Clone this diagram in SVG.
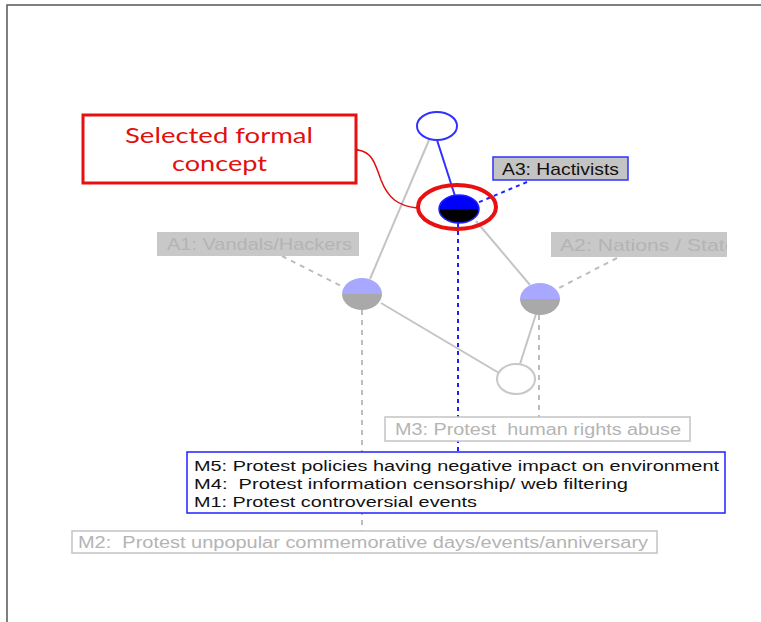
<svg xmlns="http://www.w3.org/2000/svg" width="761" height="622" viewBox="0 0 761 622">
<defs>
<style>
.t{font-family:"Liberation Sans",Arial,sans-serif;white-space:pre;}
.faint{fill:#b4b4b4;}
.gedge{stroke:#c4c4c4;stroke-width:2;fill:none;}
.gdash{stroke:#bdbdbd;stroke-width:2;stroke-dasharray:5,5;fill:none;}
.bdash{stroke:#2020ff;stroke-width:2;stroke-dasharray:4,4;fill:none;}
.call{font-family:Lato,"Open Sans",sans-serif;font-size:22px;fill:#e01010;}
</style>
<clipPath id="clipA2"><rect x="551" y="232" width="176" height="25"/></clipPath>
<marker id="openArrow" markerWidth="14" markerHeight="14" refX="1" refY="7" orient="auto" markerUnits="userSpaceOnUse">
<path d="M12,1 L1,7 L12,13" fill="none" stroke="#e01010" stroke-width="1.5"/>
</marker>
</defs>
<rect width="761" height="622" fill="#ffffff"/>
<path d="M7,622 V5 H761" fill="none" stroke="#555" stroke-width="1.5"/>

<g id="connectors">
<line x1="437" y1="140" x2="455" y2="196" stroke="#3030ff" stroke-width="2"/>
<line class="gedge" x1="429" y1="140" x2="370" y2="279"/>
<line class="gedge" x1="476" y1="221" x2="530" y2="285"/>
<line class="gedge" x1="381" y1="303" x2="499" y2="373"/>
<line class="gedge" x1="536" y1="314" x2="520" y2="364"/>
<line class="bdash" x1="527" y1="182" x2="477" y2="203"/>
<line class="gdash" x1="282" y1="256" x2="343" y2="287"/>
<line class="gdash" x1="617" y1="258" x2="557" y2="289"/>
<line class="bdash" x1="458" y1="223" x2="458" y2="452"/>
<line class="gdash" x1="362" y1="310" x2="362" y2="531"/>
<line class="gdash" x1="539" y1="315" x2="539" y2="417"/>
<path d="M417,208 C398,206 388,198 381,180 C375,163 372,152 358,150" fill="none" stroke="#e01010" stroke-width="1.5" marker-end="url(#openArrow)"/>
</g>

<g id="node-top">
<ellipse cx="437" cy="126" rx="20" ry="14" fill="#fff" stroke="#3030ff" stroke-width="2"/>
</g>

<g id="node-selected">
<path d="M439,209 A20,14 0 0 1 479,209 Z" fill="#0000ff"/>
<path d="M439,209 A20,14 0 0 0 479,209 Z" fill="#000"/>
<ellipse cx="459" cy="209" rx="20" ry="14" fill="none" stroke="#2020ff" stroke-width="1.5"/>
<ellipse cx="457" cy="207" rx="39" ry="22" fill="none" stroke="#e81010" stroke-width="4"/>
</g>

<g id="node-left">
<path d="M342,294 A20,16 0 0 1 382,294 Z" fill="#a8a8ff"/>
<path d="M342,294 A20,16 0 0 0 382,294 Z" fill="#a9a9a9"/>
</g>

<g id="node-right">
<path d="M520,299 A20,16 0 0 1 560,299 Z" fill="#a8a8ff"/>
<path d="M520,299 A20,16 0 0 0 560,299 Z" fill="#a9a9a9"/>
</g>

<g id="node-bottom">
<ellipse cx="516" cy="379" rx="19" ry="15" fill="#fff" stroke="#c8c8c8" stroke-width="2"/>
</g>

<g id="label-callout">
<rect x="83" y="115" width="273" height="68" fill="#fff" stroke="#e81010" stroke-width="3"/>
<text class="call" x="125" y="143" textLength="188" lengthAdjust="spacingAndGlyphs">Selected formal</text>
<text class="call" x="172" y="171" textLength="95" lengthAdjust="spacingAndGlyphs">concept</text>
</g>

<g id="label-A3">
<rect x="493" y="157" width="135" height="23" fill="#c4c4c4" stroke="#3030ff" stroke-width="1.5"/>
<text class="t" x="502" y="175" font-size="17" fill="#111" textLength="117" lengthAdjust="spacingAndGlyphs">A3: Hactivists</text>
</g>

<g id="label-A1">
<rect x="157" y="232" width="202" height="24" fill="#c8c8c8"/>
<text class="t faint" x="167" y="250" font-size="17" textLength="185" lengthAdjust="spacingAndGlyphs">A1: Vandals/Hackers</text>
</g>

<g id="label-A2">
<rect x="551" y="232" width="176" height="25" fill="#c8c8c8"/>
<g clip-path="url(#clipA2)">
<text class="t faint" x="560" y="251" font-size="17" textLength="187" lengthAdjust="spacingAndGlyphs">A2: Nations / States</text>
</g>
</g>

<g id="label-M3">
<rect x="385" y="417" width="305" height="24" fill="#fff" stroke="#c4c4c4" stroke-width="1.5"/>
<text class="t faint" x="395" y="435" font-size="16" textLength="286" lengthAdjust="spacingAndGlyphs">M3: Protest  human rights abuse</text>
</g>

<g id="label-M5">
<rect x="187" y="452" width="538" height="61" fill="#fff" stroke="#2020ff" stroke-width="1.5"/>
<text class="t" x="194" y="471" font-size="15.5" fill="#111" textLength="525" lengthAdjust="spacingAndGlyphs">M5: Protest policies having negative impact on environment</text>
<text class="t" x="194" y="489" font-size="15.5" fill="#111" textLength="434" lengthAdjust="spacingAndGlyphs">M4:  Protest information censorship/ web filtering</text>
<text class="t" x="194" y="507" font-size="15.5" fill="#111" textLength="283" lengthAdjust="spacingAndGlyphs">M1: Protest controversial events</text>
</g>

<g id="label-M2">
<rect x="72" y="531" width="585" height="22" fill="#fff" stroke="#c4c4c4" stroke-width="1.5"/>
<text class="t faint" x="78" y="548" font-size="16" textLength="570" lengthAdjust="spacingAndGlyphs">M2:  Protest unpopular commemorative days/events/anniversary</text>
</g>
</svg>
